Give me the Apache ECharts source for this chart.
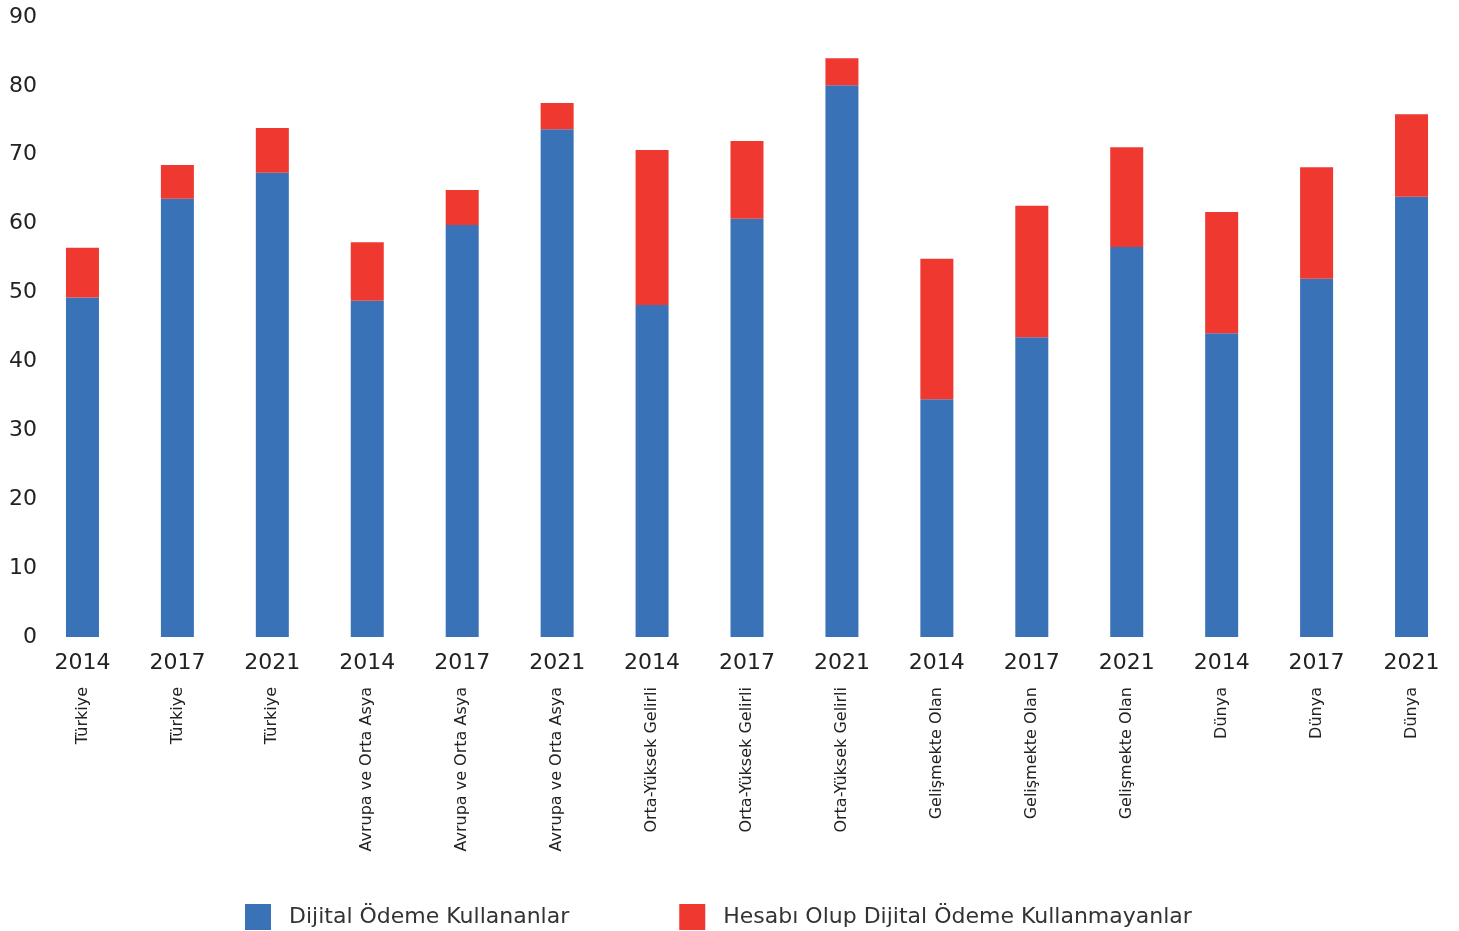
<!DOCTYPE html>
<html>
<head>
<meta charset="utf-8">
<script src="https://cdn.jsdelivr.net/npm/echarts@6/dist/echarts.min.js"></script>
<style>
html,body{margin:0;padding:0;background:#fff;}
#chart{width:1459px;height:931px;}
</style>
</head>
<body>
<div id="chart"></div>
<script>
const years = ["2014","2017","2021","2014","2017","2021","2014","2017","2021","2014","2017","2021","2014","2017","2021"];
const regions = ["Türkiye","Türkiye","Türkiye","Avrupa ve Orta Asya","Avrupa ve Orta Asya","Avrupa ve Orta Asya","Orta-Yüksek Gelirli","Orta-Yüksek Gelirli","Orta-Yüksek Gelirli","Gelişmekte Olan","Gelişmekte Olan","Gelişmekte Olan","Dünya","Dünya","Dünya"];
const digitalUsers = [49.3, 63.6, 67.4, 48.8, 59.8, 73.7, 48.2, 60.7, 80.1, 34.5, 43.5, 56.6, 44.1, 52.0, 63.9];
const accountNonUsers = [7.2, 4.9, 6.5, 8.5, 5.1, 3.8, 22.5, 11.3, 3.9, 20.4, 19.1, 14.5, 17.6, 16.2, 12.0];
const seriesNames = ["Dijital Ödeme Kullananlar", "Hesabı Olup Dijital Ödeme Kullanmayanlar"];
const yTicks = {min: 0, max: 90, interval: 10};

const font = "DejaVu Sans";
const chart = echarts.init(document.getElementById('chart'));
chart.setOption({
  animation: false,
  textStyle: {fontFamily: font},
  grid: {left: 35, right: 0, top: 17, bottom: 294, containLabel: false},
  legend: {
    top: 899, left: 240,
    itemWidth: 26, itemHeight: 26, itemGap: 110,
    icon: 'rect',
    textStyle: {fontSize: 22, color: '#333', fontFamily: font, padding: [0,0,0,13]},
    data: seriesNames
  },
  xAxis: [
    {
      type: 'category', data: years, position: 'bottom',
      axisLine: {show: false}, axisTick: {show: false},
      axisLabel: {fontSize: 22, color: '#222', margin: 15, interval: 0, fontFamily: font}
    },
    {
      type: 'category', data: regions, position: 'bottom',
      axisLine: {show: false}, axisTick: {show: false},
      axisLabel: {fontSize: 16, color: '#222', margin: 50, rotate: 90, interval: 0, fontFamily: font}
    }
  ],
  yAxis: {
    type: 'value', min: yTicks.min, max: yTicks.max, interval: yTicks.interval,
    splitLine: {show: false}, axisLine: {show: false}, axisTick: {show: false},
    axisLabel: {fontSize: 22, color: '#222', margin: -2, fontFamily: font}
  },
  series: [
    {name: seriesNames[0], type: 'bar', stack: 'a', xAxisIndex: 0, data: digitalUsers,
     barWidth: 33, itemStyle: {color: '#3A72B8'}},
    {name: seriesNames[1], type: 'bar', stack: 'a', xAxisIndex: 0, data: accountNonUsers,
     barWidth: 33, itemStyle: {color: '#EE3830'}}
  ]
});
</script>
</body>
</html>
